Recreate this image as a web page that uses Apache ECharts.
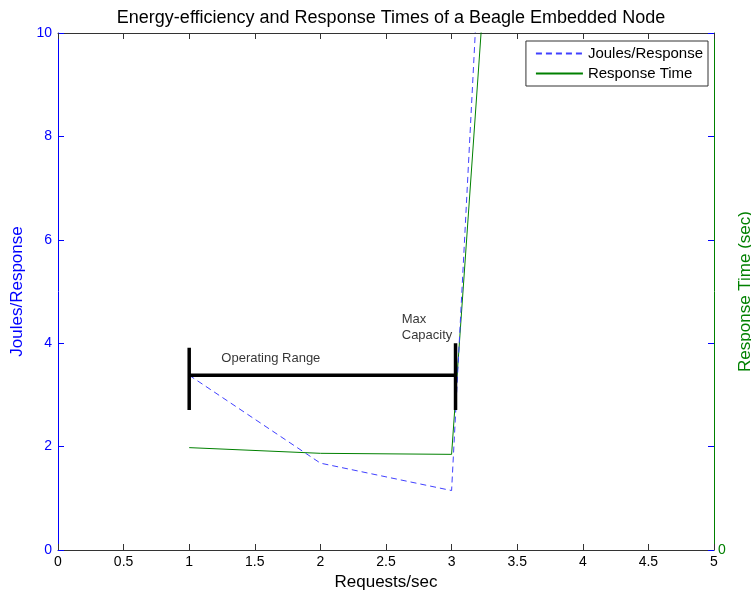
<!DOCTYPE html>
<html>
<head>
<meta charset="utf-8">
<script src="https://cdn.jsdelivr.net/npm/echarts@6/dist/echarts.min.js"></script>
<style>
  html, body { margin: 0; padding: 0; background: #fff; }
  #chart { width: 751px; height: 594px; }
</style>
</head>
<body>
<div id="chart"></div>
<script>
// values
const requests = [1, 2, 3, 3.5];
const joulesPerResponse = [3.38, 1.68, 1.15, 25.7];
const responseTime = [1.98, 1.87, 1.85, 20.0];

// operating range annotation
const rangeStart = 1;
const rangeEnd = 3.03;
const rangeLevel = 3.38;
const startBar = [2.71, 3.91];
const endBar = [2.71, 4.0];
const notes = [
  { text: "Operating Range", x: 1.245, y: 3.71 },
  { text: "Max\nCapacity", x: 2.62, y: 4.3 }
];

const font = "Liberation Sans, Arial, sans-serif";
const chart = echarts.init(document.getElementById("chart"));

const zip = (xs, ys) => xs.map((x, i) => [x, ys[i]]);

const barStyle = { color: "#000", width: 3.5 };

const option = {
  backgroundColor: "#fff",
  animation: false,
  title: {
    text: "Energy-efficiency and Response Times of a Beagle Embedded Node",
    left: 386,
    textAlign: "center",
    top: 4,
    textStyle: { fontFamily: font, fontSize: 18, fontWeight: "normal", color: "#000" }
  },
  legend: {
    orient: "vertical",
    right: 43,
    top: 41,
    padding: [5, 5, 5, 9],
    itemGap: 5,
    itemWidth: 47,
    itemHeight: 12,
    borderColor: "#333",
    borderWidth: 1,
    borderRadius: 0,
    backgroundColor: "#fff",
    itemStyle: { opacity: 0 },
    textStyle: { fontFamily: font, fontSize: 15, color: "#000" },
    data: ["Joules/Response", "Response Time"]
  },
  grid: { left: 58, right: 37, top: 33, bottom: 44, containLabel: false, outerBoundsMode: "none" },
  xAxis: [
    {
      type: "value",
      min: 0,
      max: 5,
      interval: 0.5,
      name: "Requests/sec",
      nameLocation: "middle",
      nameGap: 20,
      nameTextStyle: { fontFamily: font, fontSize: 17, color: "#000" },
      axisLine: { onZero: false, lineStyle: { color: "#333" } },
      axisTick: { inside: true, length: 6, lineStyle: { color: "#333" } },
      axisLabel: { fontFamily: font, fontSize: 14, color: "#000", margin: 5 },
      splitLine: { show: false }
    },
    {
      type: "value",
      position: "top",
      min: 0,
      max: 5,
      interval: 0.5,
      axisLine: { show: true, onZero: false, lineStyle: { color: "#333" } },
      axisTick: { inside: true, length: 6, lineStyle: { color: "#333" } },
      axisLabel: { show: false },
      splitLine: { show: false }
    }
  ],
  yAxis: [
    {
      type: "value",
      position: "left",
      min: 0,
      max: 10,
      interval: 2,
      name: "Joules/Response",
      nameLocation: "middle",
      nameGap: 31,
      nameTextStyle: { fontFamily: font, fontSize: 17, color: "#0000ff" },
      axisLine: { show: true, onZero: false, lineStyle: { color: "#0000ff" } },
      axisTick: { show: true, inside: true, length: 6, lineStyle: { color: "#0000ff" } },
      axisLabel: { fontFamily: font, fontSize: 14, color: "#0000ff", margin: 6 },
      splitLine: { show: false }
    },
    {
      type: "value",
      position: "right",
      min: 0,
      max: 10,
      interval: 10,
      name: "Response Time (sec)",
      nameLocation: "middle",
      nameGap: 12,
      nameRotate: 90,
      nameTextStyle: { fontFamily: font, fontSize: 17, color: "#008000" },
      axisLine: { show: true, onZero: false, lineStyle: { color: "#008000" } },
      axisTick: { show: false },
      axisLabel: {
        fontFamily: font, fontSize: 14, color: "#008000", margin: 4,
        formatter: v => (v === 0 ? "0" : "")
      },
      splitLine: { show: false }
    },
    {
      type: "value",
      position: "right",
      min: 0,
      max: 10,
      interval: 2,
      axisLine: { show: false, onZero: false },
      axisTick: { show: true, inside: true, length: 6, lineStyle: { color: "#0000ff" } },
      axisLabel: { show: false },
      splitLine: { show: false }
    }
  ],
  series: [
    {
      name: "Joules/Response",
      type: "line",
      yAxisIndex: 0,
      data: zip(requests, joulesPerResponse),
      symbol: "none",
      clip: true,
      color: "#4040ff",
      lineStyle: { color: "#4040ff", width: 1, type: [6, 4] },
      z: 3
    },
    {
      name: "Response Time",
      type: "line",
      yAxisIndex: 1,
      data: zip(requests, responseTime),
      symbol: "none",
      clip: true,
      color: "#008000",
      lineStyle: { color: "#008000", width: 1 },
      z: 2
    },
    {
      type: "line",
      yAxisIndex: 0,
      data: [[rangeStart, rangeLevel], [rangeEnd, rangeLevel]],
      symbol: "none",
      lineStyle: barStyle,
      z: 4
    },
    {
      type: "line",
      yAxisIndex: 0,
      data: [[rangeStart, startBar[0]], [rangeStart, startBar[1]]],
      symbol: "none",
      lineStyle: barStyle,
      z: 4
    },
    {
      type: "line",
      yAxisIndex: 0,
      data: [[rangeEnd, endBar[0]], [rangeEnd, endBar[1]]],
      symbol: "none",
      lineStyle: barStyle,
      z: 4
    },
    {
      type: "scatter",
      yAxisIndex: 0,
      symbolSize: 0,
      data: notes.map(n => ({ value: [n.x, n.y], name: n.text })),
      label: {
        show: true,
        position: "right",
        distance: 0,
        formatter: p => p.name,
        fontFamily: font,
        fontSize: 13,
        lineHeight: 16,
        color: "#000",
        textBorderWidth: 0
      },
      z: 5
    }
  ]
};

chart.setOption(option);
</script>
</body>
</html>
